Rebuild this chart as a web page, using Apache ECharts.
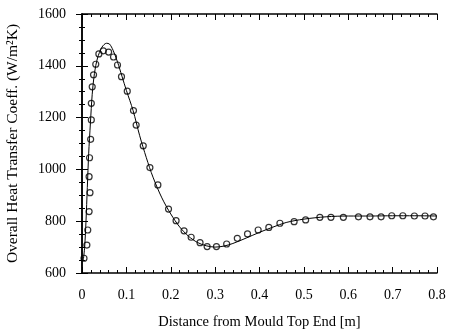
<!DOCTYPE html>
<html>
<head>
<meta charset="utf-8">
<script src="https://cdn.jsdelivr.net/npm/echarts@6/dist/echarts.min.js"></script>
<style>
  html, body { margin: 0; padding: 0; background: #fff; }
  #chart { width: 449px; height: 331px; }
</style>
</head>
<body>
<div id="chart"></div>
<script>
// calculated curve (distance [m], coeff)
var lineX = [0.003, 0.006, 0.009, 0.012, 0.015, 0.019, 0.023, 0.028, 0.035, 0.045, 0.055, 0.062, 0.07, 0.08, 0.09, 0.1, 0.115, 0.13, 0.145, 0.16, 0.18, 0.2, 0.22, 0.24, 0.26, 0.28, 0.3, 0.32, 0.34, 0.37, 0.4, 0.43, 0.46, 0.5, 0.55, 0.6, 0.65, 0.7, 0.75, 0.8];
var lineY = [650, 700, 800, 930, 1060, 1180, 1290, 1370, 1430, 1472, 1487, 1484, 1460, 1415, 1360, 1305, 1228, 1130, 1045, 970, 890, 828, 778, 742, 718, 705, 700, 704, 714, 735, 757, 777, 795, 808, 817, 820, 820, 821, 821, 820];

// measured points
var ptX = [0.0045, 0.011, 0.013, 0.016, 0.018, 0.016, 0.017, 0.0195, 0.021, 0.021, 0.023, 0.026, 0.031, 0.038, 0.048, 0.060, 0.071, 0.080, 0.089, 0.102, 0.116, 0.122, 0.138, 0.153, 0.171, 0.195, 0.212, 0.230, 0.246, 0.266, 0.282, 0.303, 0.326, 0.350, 0.373, 0.397, 0.421, 0.446, 0.478, 0.504, 0.536, 0.561, 0.589, 0.623, 0.649, 0.674, 0.698, 0.723, 0.749, 0.773, 0.792, 0.801];
var ptY = [657, 708, 766, 837, 910, 972, 1045, 1116, 1191, 1255, 1319, 1365, 1406, 1446, 1458, 1453, 1434, 1403, 1358, 1302, 1227, 1171, 1091, 1007, 940, 847, 802, 763, 738, 717, 702, 702, 712, 734, 751, 766, 776, 792, 798, 805, 815, 815, 815, 817, 817, 817, 821, 821, 820, 820, 817, 821];

var xTicks = ['0', '0.1', '0.2', '0.3', '0.4', '0.5', '0.6', '0.7', '0.8'];
var yTicks = ['600', '800', '1000', '1200', '1400', '1600'];

var FONT = 'Liberation Serif';

function zip(a, b) {
    var out = [];
    for (var i = 0; i < a.length; i++) out.push([a[i], b[i]]);
    return out;
}

var axisLine = { show: true, lineStyle: { color: '#000', width: 1.5 } };
var tick = { show: true, inside: true, length: 6, lineStyle: { color: '#000', width: 1 } };
var minor = { show: true, splitNumber: 5, length: 3, lineStyle: { color: '#000', width: 1 } };
var minorY = { show: true, splitNumber: 4, length: 3, lineStyle: { color: '#000', width: 1 } };

var myChart = echarts.init(document.getElementById('chart'));
var option = {
    animation: false,
    backgroundColor: '#fff',
    grid: { left: 82, right: 12, top: 14, bottom: 58, outerBoundsMode: 'none', containLabel: false },
    xAxis: [{
        type: 'value', min: 0, max: 0.8, interval: 0.1,
        name: 'Distance from Mould Top End [m]',
        nameLocation: 'middle', nameGap: 42,
        nameTextStyle: { fontFamily: FONT, fontSize: 14.5, color: '#000' },
        axisLine: axisLine, axisTick: tick, minorTick: minor,
        splitLine: { show: false },
        axisLabel: {
            margin: 15, fontFamily: FONT, fontSize: 14, color: '#000',
            formatter: function (v) { return xTicks[Math.round(v * 10)]; }
        }
    }, {
        type: 'value', position: 'top', min: 0, max: 0.8, interval: 0.1,
        axisLine: axisLine, axisTick: tick, minorTick: minor,
        splitLine: { show: false }, axisLabel: { show: false }
    }],
    yAxis: [{
        type: 'value', min: 600, max: 1600, interval: 200,
        name: 'Overall Heat Transfer Coeff. (W/m²K)',
        nameLocation: 'middle', nameGap: 61,
        nameTextStyle: { fontFamily: FONT, fontSize: 15.5, color: '#000' },
        axisLine: axisLine, axisTick: tick, minorTick: minorY,
        splitLine: { show: false },
        axisLabel: {
            margin: 16, fontFamily: FONT, fontSize: 14, color: '#000',
            formatter: function (v) { return yTicks[Math.round((v - 600) / 200)]; }
        }
    }, {
        type: 'value', position: 'right', min: 600, max: 1600, interval: 200,
        axisLine: axisLine, axisTick: tick, minorTick: minorY,
        splitLine: { show: false }, axisLabel: { show: false }
    }],
    series: [{
        type: 'line',
        data: zip(lineX, lineY),
        smooth: 0.3,
        showSymbol: false,
        lineStyle: { color: '#000', width: 1 },
        z: 2
    }, {
        type: 'scatter',
        data: zip(ptX, ptY),
        symbol: 'circle',
        symbolSize: 6,
        itemStyle: { color: 'rgba(255,255,255,0)', borderColor: '#000', borderWidth: 1.2 },
        z: 3
    }]
};
myChart.setOption(option);
</script>
</body>
</html>
